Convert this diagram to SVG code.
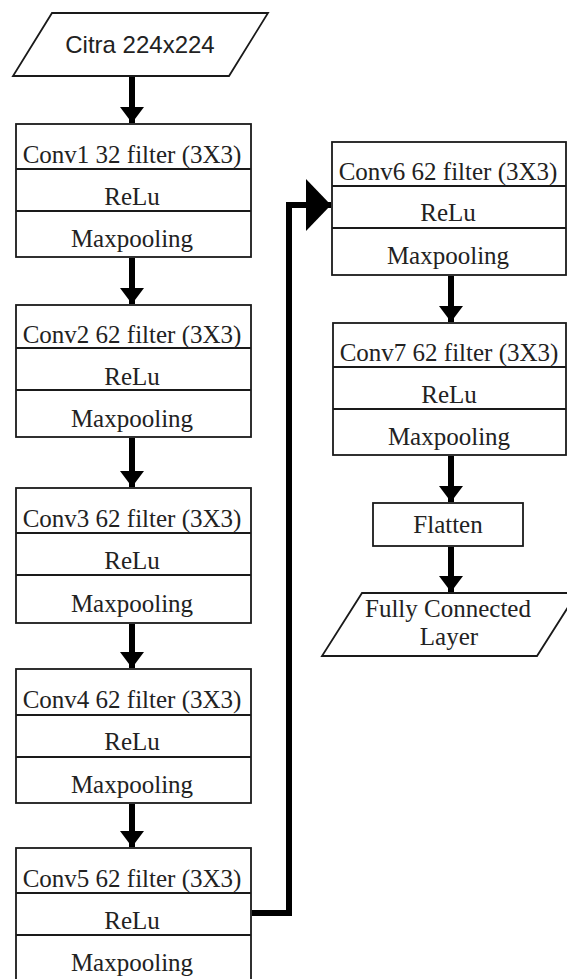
<svg xmlns="http://www.w3.org/2000/svg" width="567" height="979" viewBox="0 0 567 979">
<style>
.box{fill:#fff;stroke:#1a1a1a;stroke-width:1.8}
.div{stroke:#1a1a1a;stroke-width:1.8}
.t{font-family:"Liberation Serif","Times New Roman",serif;font-size:25px;fill:#222;text-anchor:middle}
.s{font-family:"Liberation Sans",Arial,sans-serif;font-size:24px;fill:#222;text-anchor:middle}
.ar{stroke:#000;stroke-width:6;fill:none}
</style>
<defs>
<marker id="ah" markerUnits="userSpaceOnUse" markerWidth="16" markerHeight="24" refX="16" refY="12" orient="auto" viewBox="0 0 16 24">
<path d="M0,0 L16,12 L0,24 z" fill="#000"/>
</marker>
<marker id="big" markerUnits="userSpaceOnUse" markerWidth="25" markerHeight="52" refX="25" refY="26" orient="auto" viewBox="0 0 25 52">
<path d="M0,0 L25,26 L0,52 z" fill="#000"/>
</marker>
</defs>
<rect width="567" height="979" fill="#fff"/>

<g id="connectors">
<line class="ar" x1="132" y1="77" x2="132" y2="123" marker-end="url(#ah)"/>
<line class="ar" x1="132" y1="258" x2="132" y2="304" marker-end="url(#ah)"/>
<line class="ar" x1="132" y1="438" x2="132" y2="487" marker-end="url(#ah)"/>
<line class="ar" x1="132" y1="624" x2="132" y2="668" marker-end="url(#ah)"/>
<line class="ar" x1="132" y1="804" x2="132" y2="847" marker-end="url(#ah)"/>
<polyline class="ar" stroke-width="7" points="252,913 289,913 289,205 331,205" marker-end="url(#big)"/>
<line class="ar" x1="451" y1="276" x2="451" y2="322" marker-end="url(#ah)"/>
<line class="ar" x1="451" y1="456" x2="451" y2="502" marker-end="url(#ah)"/>
<line class="ar" x1="451" y1="547" x2="451" y2="592" marker-end="url(#ah)"/>
</g>

<g id="input">
<polygon class="box" points="52,13 268,13 229,76 13,76"/>
<text class="s" x="140" y="53">Citra 224x224</text>
</g>

<g id="conv1">
<rect class="box" x="16" y="124" width="235" height="133"/>
<line class="div" x1="16" y1="169" x2="251" y2="169"/>
<line class="div" x1="16" y1="211" x2="251" y2="211"/>
<text class="t" x="132" y="163">Conv1 32 filter (3X3)</text>
<text class="t" x="132" y="205">ReLu</text>
<text class="t" x="132" y="247">Maxpooling</text>
</g>

<g id="conv2">
<rect class="box" x="16" y="305" width="235" height="132"/>
<line class="div" x1="16" y1="348" x2="251" y2="348"/>
<line class="div" x1="16" y1="390" x2="251" y2="390"/>
<text class="t" x="132" y="343">Conv2 62 filter (3X3)</text>
<text class="t" x="132" y="385">ReLu</text>
<text class="t" x="132" y="427">Maxpooling</text>
</g>

<g id="conv3">
<rect class="box" x="16" y="488" width="235" height="135"/>
<line class="div" x1="16" y1="533" x2="251" y2="533"/>
<line class="div" x1="16" y1="575" x2="251" y2="575"/>
<text class="t" x="132" y="527">Conv3 62 filter (3X3)</text>
<text class="t" x="132" y="569">ReLu</text>
<text class="t" x="132" y="612">Maxpooling</text>
</g>

<g id="conv4">
<rect class="box" x="16" y="669" width="235" height="134"/>
<line class="div" x1="16" y1="715" x2="251" y2="715"/>
<line class="div" x1="16" y1="757" x2="251" y2="757"/>
<text class="t" x="132" y="708">Conv4 62 filter (3X3)</text>
<text class="t" x="132" y="750">ReLu</text>
<text class="t" x="132" y="793">Maxpooling</text>
</g>

<g id="conv5">
<rect class="box" x="16" y="848" width="235" height="140"/>
<line class="div" x1="16" y1="893" x2="251" y2="893"/>
<line class="div" x1="16" y1="935" x2="251" y2="935"/>
<text class="t" x="132" y="887">Conv5 62 filter (3X3)</text>
<text class="t" x="132" y="929">ReLu</text>
<text class="t" x="132" y="971">Maxpooling</text>
</g>

<g id="conv6">
<rect class="box" x="332" y="142" width="234" height="133"/>
<line class="div" x1="332" y1="186" x2="566" y2="186"/>
<line class="div" x1="332" y1="228" x2="566" y2="228"/>
<text class="t" x="448" y="180">Conv6 62 filter (3X3)</text>
<text class="t" x="448" y="221">ReLu</text>
<text class="t" x="448" y="264">Maxpooling</text>
</g>

<g id="conv7">
<rect class="box" x="333" y="323" width="233" height="132"/>
<line class="div" x1="333" y1="367" x2="566" y2="367"/>
<line class="div" x1="333" y1="409" x2="566" y2="409"/>
<text class="t" x="449" y="361">Conv7 62 filter (3X3)</text>
<text class="t" x="449" y="403">ReLu</text>
<text class="t" x="449" y="445">Maxpooling</text>
</g>

<g id="flatten">
<rect class="box" x="373" y="503" width="150" height="43"/>
<text class="t" x="448" y="533">Flatten</text>
</g>

<g id="output">
<polygon class="box" points="362,593 577,593 537,656 322,656"/>
<text class="t" x="448" y="617">Fully Connected</text>
<text class="t" x="449" y="645">Layer</text>
</g>
</svg>
